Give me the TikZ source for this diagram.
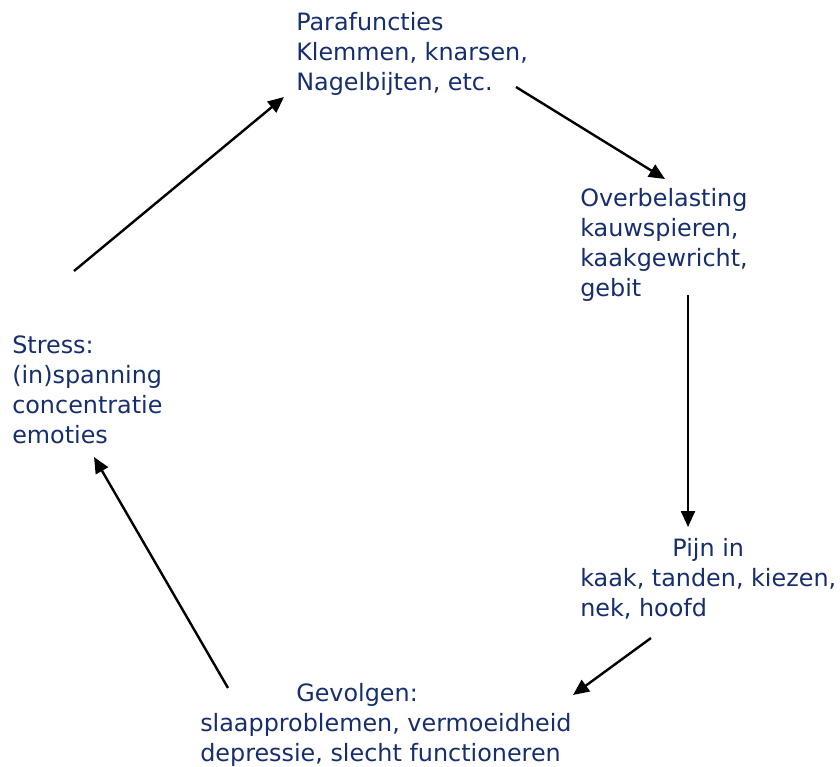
\documentclass[tikz,border=0pt]{standalone}
\usepackage{fontspec}
\setmainfont{DejaVu Sans}
\usetikzlibrary{arrows.meta}
\definecolor{donkerblauw}{RGB}{22,46,110}
\tikzset{
  tekst/.style={anchor=base west,inner sep=0pt,text=donkerblauw,font=\fontsize{17.9}{22.5}\selectfont},
  pijl/.style={line width=1.8pt,-{Triangle[length=12pt,width=10.5pt]}}
}
\newcommand{\regels}[1]{\begin{tabular}[t]{@{}l@{}}#1\end{tabular}}

\begin{document}
\begin{tikzpicture}[x=0.75pt,y=-0.75pt]
\useasboundingbox (0,0) rectangle (840,767);

\node [tekst] (para) at (296,31) {\regels{Parafuncties\\Klemmen, knarsen,\\Nagelbijten, etc.}};
\node [tekst] (over) at (580,206) {\regels{Overbelasting\\kauwspieren,\\kaakgewricht,\\gebit}};
\node [tekst] (pijn) at (580,556) {\regels{\multicolumn{1}{@{}c@{}}{Pijn in}\\kaak, tanden, kiezen,\\nek, hoofd}};
\node [tekst] (gevolg) at (200,701) {\regels{\hspace*{72pt}Gevolgen:\\slaapproblemen, vermoeidheid\\depressie, slecht functioneren}};
\node [tekst] (stress) at (12,353) {\regels{Stress:\\(in)spanning\\concentratie\\emoties}};

\coordinate (stress-uit) at (74,271);
\coordinate (para-in) at (284,97);
\coordinate (para-uit) at (516,87);
\coordinate (over-in) at (665,179);
\coordinate (over-uit) at (688,295);
\coordinate (pijn-in) at (688,527);
\coordinate (pijn-uit) at (651,638);
\coordinate (gevolg-in) at (573,695);
\coordinate (gevolg-uit) at (228,688);
\coordinate (stress-in) at (94,457);

\draw [pijl] (stress-uit) -- (para-in);
\draw [pijl] (para-uit) -- (over-in);
\draw [pijl] (over-uit) -- (pijn-in);
\draw [pijl] (pijn-uit) -- (gevolg-in);
\draw [pijl] (gevolg-uit) -- (stress-in);
\end{tikzpicture}
\end{document}
